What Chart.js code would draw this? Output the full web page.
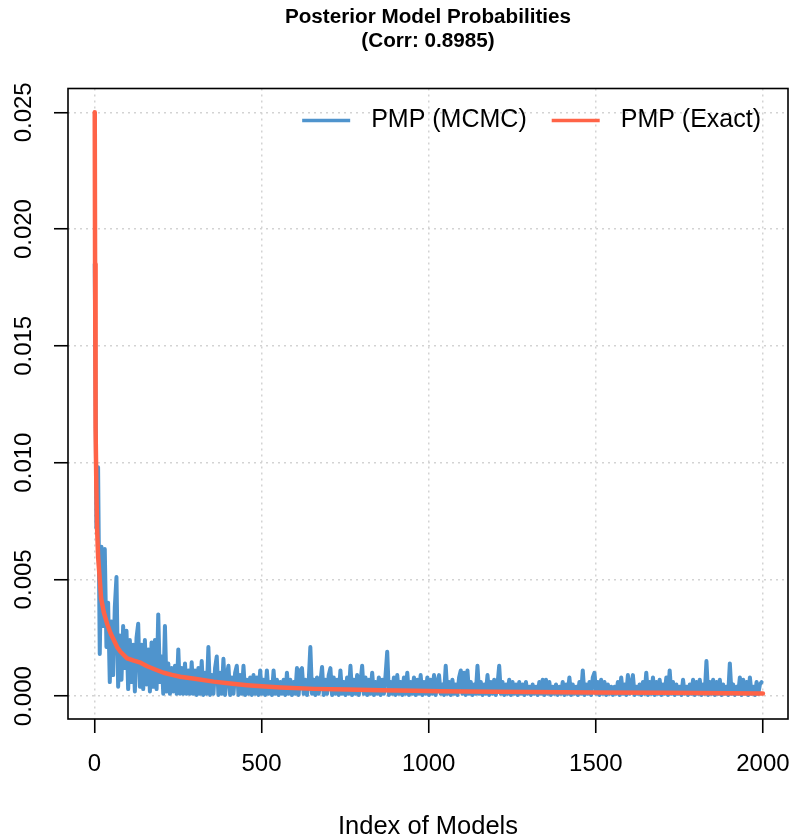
<!DOCTYPE html>
<html>
<head>
<meta charset="utf-8">
<title>Posterior Model Probabilities</title>
<script src="https://cdn.jsdelivr.net/npm/chart.js@4.4.0/dist/chart.umd.min.js"></script>
<style>
  html, body { margin:0; padding:0; background:#fff; }
  canvas { display:block; }
</style>
</head>
<body>
<canvas id="pmpChart" width="793" height="840"></canvas>
<script>
const TITLE_LINES = ["Posterior Model Probabilities", "(Corr: 0.8985)"];
const X_TITLE = "Index of Models";
const SERIES_NAMES = ["PMP (MCMC)", "PMP (Exact)"];
const X_TICKS = [0, 500, 1000, 1500, 2000];
const Y_TICKS = [0, 0.005, 0.010, 0.015, 0.020, 0.025];

// MCMC estimate, read every 5th model (1, 6, 11, ..., 1996)
const MCMC_FIRST = 1;
const MCMC_STEP = 5;
const pmpMcmc = [
  0.0185, 0.0072, 0.0098, 0.0018, 0.0064, 0.0030, 0.0063, 0.0021, 0.0040, 0.0006,
  0.0032, 0.0009, 0.0038, 0.0051, 0.0004, 0.0026, 0.0007, 0.0030, 0.0012, 0.0028,
  0.0003, 0.0024, 0.0006, 0.0022, 0.0002, 0.0025, 0.0031, 0.0004, 0.0022, 0.0003,
  0.0024, 0.0005, 0.0020, 0.0002, 0.0023, 0.0004, 0.0024, 0.0003, 0.0035, 0.0006,
  0.0017, 0.0001, 0.0030, 0.0002, 0.0014, 0.0001, 0.0012, 0.0002, 0.0013, 0.0001,
  0.0020, 0.0001, 0.0012, 0.0001, 0.0014, 0.0001, 0.0011, 0.0001, 0.00145, 0.0001,
  0.0011, 0.00005, 0.0012, 0.0001, 0.0015, 0.00005, 0.0010, 0.0001, 0.0021, 0.00005,
  0.0009, 0.0001, 0.0012, 0.0017, 0.00005, 0.0010, 0.0001, 0.0016, 0.00005, 0.0009,
  0.0013, 0.00005, 0.0008, 0.0001, 0.0010, 0.0013, 0.00005, 0.0009, 0.0001, 0.0013,
  0.00005, 0.0007, 0.0001, 0.0008, 0.00005, 0.0009, 0.0001, 0.0008, 0.00005, 0.0011,
  0.0001, 0.0007, 0.00005, 0.0011, 0.0001, 0.0006, 0.00005, 0.0011, 0.0001, 0.0007,
  0.00005, 0.0006, 0.0001, 0.0007, 0.00005, 0.0010, 0.0001, 0.0007, 0.00005, 0.0006,
  0.0001, 0.0012, 0.00005, 0.0011, 0.0012, 0.0001, 0.0007, 0.00005, 0.0006, 0.0021,
  0.0001, 0.0007, 0.00005, 0.0008, 0.0001, 0.0006, 0.00125, 0.00005, 0.0007, 0.0001,
  0.0009, 0.0012, 0.00005, 0.0008, 0.0001, 0.0007, 0.00005, 0.0011, 0.0001, 0.0006,
  0.00005, 0.0008, 0.0001, 0.0013, 0.00005, 0.0007, 0.0001, 0.0009, 0.00005, 0.0006,
  0.0013, 0.0001, 0.0008, 0.00005, 0.0007, 0.0001, 0.0010, 0.00005, 0.0006, 0.0001,
  0.0008, 0.00005, 0.0007, 0.0001, 0.0009, 0.0019, 0.00005, 0.0006, 0.0001, 0.0008,
  0.00005, 0.0009, 0.0001, 0.0006, 0.00005, 0.0008, 0.0001, 0.0010, 0.00005, 0.0006,
  0.0001, 0.0008, 0.00005, 0.0007, 0.0001, 0.0009, 0.00005, 0.0006, 0.0001, 0.0008,
  0.00005, 0.0007, 0.0001, 0.0009, 0.00005, 0.0006, 0.0009, 0.0001, 0.0005, 0.00005,
  0.0013, 0.0001, 0.0006, 0.00005, 0.0007, 0.0001, 0.0005, 0.00005, 0.0008, 0.0011,
  0.0001, 0.0010, 0.00005, 0.0011, 0.0001, 0.0006, 0.00005, 0.0005, 0.0001, 0.0013,
  0.0001, 0.0006, 0.00005, 0.0005, 0.0001, 0.0009, 0.00005, 0.0006, 0.0001, 0.0007,
  0.00005, 0.0005, 0.0013, 0.0001, 0.0006, 0.00005, 0.0005, 0.0001, 0.0007, 0.00005,
  0.0006, 0.0001, 0.0005, 0.00005, 0.0006, 0.0001, 0.0005, 0.00005, 0.0006, 0.0001,
  0.0004, 0.00005, 0.0005, 0.0001, 0.0004, 0.00005, 0.0006, 0.0001, 0.0007, 0.00005,
  0.0007, 0.0001, 0.0006, 0.00005, 0.0004, 0.0001, 0.0005, 0.00005, 0.0004, 0.0001,
  0.0006, 0.00005, 0.0005, 0.0001, 0.0008, 0.00005, 0.0005, 0.0001, 0.0004, 0.00005,
  0.0006, 0.0001, 0.0011, 0.00005, 0.0005, 0.0001, 0.0006, 0.00005, 0.0008, 0.0010,
  0.0001, 0.0006, 0.00005, 0.0007, 0.0001, 0.0006, 0.00005, 0.0005, 0.0001, 0.0004,
  0.00005, 0.0004, 0.0001, 0.0006, 0.00005, 0.0008, 0.0001, 0.0005, 0.00005, 0.0009,
  0.0001, 0.0005, 0.0009, 0.00005, 0.0004, 0.0001, 0.0005, 0.00005, 0.0006, 0.0001,
  0.0010, 0.00005, 0.0006, 0.0001, 0.0008, 0.00005, 0.0006, 0.0001, 0.0007, 0.00005,
  0.0005, 0.0001, 0.0008, 0.00005, 0.0011, 0.0001, 0.0006, 0.00005, 0.0005, 0.0001,
  0.0004, 0.00005, 0.0007, 0.0001, 0.0004, 0.00005, 0.0005, 0.0001, 0.0007, 0.00005,
  0.0006, 0.0001, 0.0007, 0.00005, 0.0005, 0.0001, 0.0015, 0.00005, 0.0006, 0.0001,
  0.0007, 0.00005, 0.0006, 0.0001, 0.0007, 0.00005, 0.0005, 0.0001, 0.0004, 0.00005,
  0.0014, 0.0001, 0.0005, 0.00005, 0.0004, 0.0001, 0.0008, 0.00005, 0.0007, 0.0001,
  0.0006, 0.00005, 0.0008, 0.0001, 0.0004, 0.00005, 0.0006, 0.0001, 0.0005, 0.0006
];

// exact PMP at these model indices
const exactIdx = [1, 2, 3, 4, 6, 8, 11, 15, 20, 28, 38, 48, 58, 68, 78, 98, 118, 138, 158, 180,
  207, 232, 257, 300, 357, 400, 457, 500, 557, 657, 757, 857, 957, 1036, 1200, 1400, 1500, 1700, 1900, 2000];
const pmpExact = [0.0250, 0.0185, 0.0140, 0.0115, 0.0088, 0.0072, 0.0060, 0.0052, 0.0042, 0.0036,
  0.0031, 0.0027, 0.0024, 0.0021, 0.0019, 0.00162, 0.00152, 0.00143, 0.00128, 0.00115,
  0.00100, 0.00091, 0.00083, 0.00074, 0.00062, 0.00055, 0.00047, 0.00042, 0.00037, 0.00031,
  0.00028, 0.00025, 0.00023, 0.00021, 0.00019, 0.00017, 0.00016, 0.00014, 0.00012, 0.00011];

const BLUE = "#4F94CD";
const RED = "#FF6347";
const GRID = "#D3D3D3";
const FONT = "'Liberation Sans', Arial, Helvetica, sans-serif";

Chart.defaults.font.family = FONT;
Chart.defaults.color = "#000";

const mcmcIdx = pmpMcmc.map((_, i) => MCMC_FIRST + i * MCMC_STEP);

// box round the plot region, like R's box()
const plotBox = {
    id: "plotBox",
    afterDraw(chart) {
        const { ctx, chartArea: a } = chart;
        ctx.save();
        ctx.strokeStyle = "#000";
        ctx.lineWidth = 1.6;
        ctx.strokeRect(a.left, a.top, a.right - a.left, a.bottom - a.top);
        ctx.restore();
    }
};

// horizontal legend inside the top right corner, no frame
const insideLegend = {
    id: "insideLegend",
    afterDraw(chart) {
        const { ctx, chartArea: a } = chart;
        const colors = [BLUE, RED];
        const lineLen = 48, lineGap = 21, itemGap = 25;
        const y = a.top + 32;
        ctx.save();
        ctx.font = "25px " + FONT;
        ctx.textBaseline = "middle";
        ctx.textAlign = "left";
        let xEnd = a.right - 27;
        for (let i = SERIES_NAMES.length - 1; i >= 0; i--) {
            const w = ctx.measureText(SERIES_NAMES[i]).width;
            const tx = xEnd - w;
            ctx.fillStyle = "#000";
            ctx.fillText(SERIES_NAMES[i], tx, y);
            ctx.strokeStyle = colors[i];
            ctx.lineWidth = 3.5;
            ctx.beginPath();
            ctx.moveTo(tx - lineGap - lineLen, y);
            ctx.lineTo(tx - lineGap, y);
            ctx.stroke();
            xEnd = tx - lineGap - lineLen - itemGap;
        }
        ctx.restore();
    }
};

const gridOpts = {
    color: GRID,
    lineWidth: 1.5,
    drawTicks: true,
    tickLength: 14,
    tickColor: "#000",
    tickWidth: 1.6
};

new Chart(document.getElementById("pmpChart"), {
    type: "line",
    data: {
        datasets: [
            {
                label: SERIES_NAMES[0],
                data: mcmcIdx.map((x, i) => ({ x: x, y: pmpMcmc[i] })),
                borderColor: BLUE,
                borderWidth: 4,
                pointRadius: 0,
                tension: 0,
                borderJoinStyle: "round",
                borderCapStyle: "round",
                order: 2
            },
            {
                label: SERIES_NAMES[1],
                data: exactIdx.map((x, i) => ({ x: x, y: pmpExact[i] })),
                borderColor: RED,
                borderWidth: 4.5,
                pointRadius: 0,
                tension: 0,
                borderJoinStyle: "round",
                borderCapStyle: "round",
                order: 1
            }
        ]
    },
    options: {
        responsive: false,
        animation: false,
        devicePixelRatio: 1,
        layout: { padding: { top: 0, right: 5, bottom: 0, left: 0 } },
        plugins: {
            legend: { display: false },
            tooltip: { enabled: false },
            title: {
                display: true,
                fullSize: false,
                text: TITLE_LINES,
                color: "#000",
                font: { size: 20.7, weight: "bold", lineHeight: 24 / 20.7 },
                padding: { top: 5, bottom: 35.5 }
            }
        },
        scales: {
            x: {
                type: "linear",
                min: -79,
                max: 2075,
                afterBuildTicks: s => { s.ticks = X_TICKS.map(v => ({ value: v })); },
                afterFit: s => { s.height = 121; s.paddingLeft = 0; s.paddingRight = 0; },
                ticks: {
                    color: "#000",
                    font: { size: 24 },
                    padding: 17,
                    maxRotation: 0,
                    autoSkip: false,
                    callback: v => String(v)
                },
                grid: gridOpts,
                border: { display: false, dash: [2, 4] },
                title: {
                    display: true,
                    text: X_TITLE,
                    color: "#000",
                    font: { size: 25.5, lineHeight: 1.05 },
                    padding: { top: 0, bottom: 0 }
                }
            },
            y: {
                type: "linear",
                min: -0.00098,
                max: 0.02602,
                afterBuildTicks: s => { s.ticks = Y_TICKS.map(v => ({ value: v })); },
                afterFit: s => { s.width = 68; s.paddingTop = 0; s.paddingBottom = 0; },
                ticks: {
                    color: "#000",
                    font: { size: 24 },
                    padding: 0,
                    minRotation: 90,
                    maxRotation: 90,
                    crossAlign: "center",
                    autoSkip: false,
                    callback: v => v.toFixed(3)
                },
                grid: gridOpts,
                border: { display: false, dash: [2, 4] }
            }
        }
    },
    plugins: [plotBox, insideLegend]
});
</script>
</body>
</html>
